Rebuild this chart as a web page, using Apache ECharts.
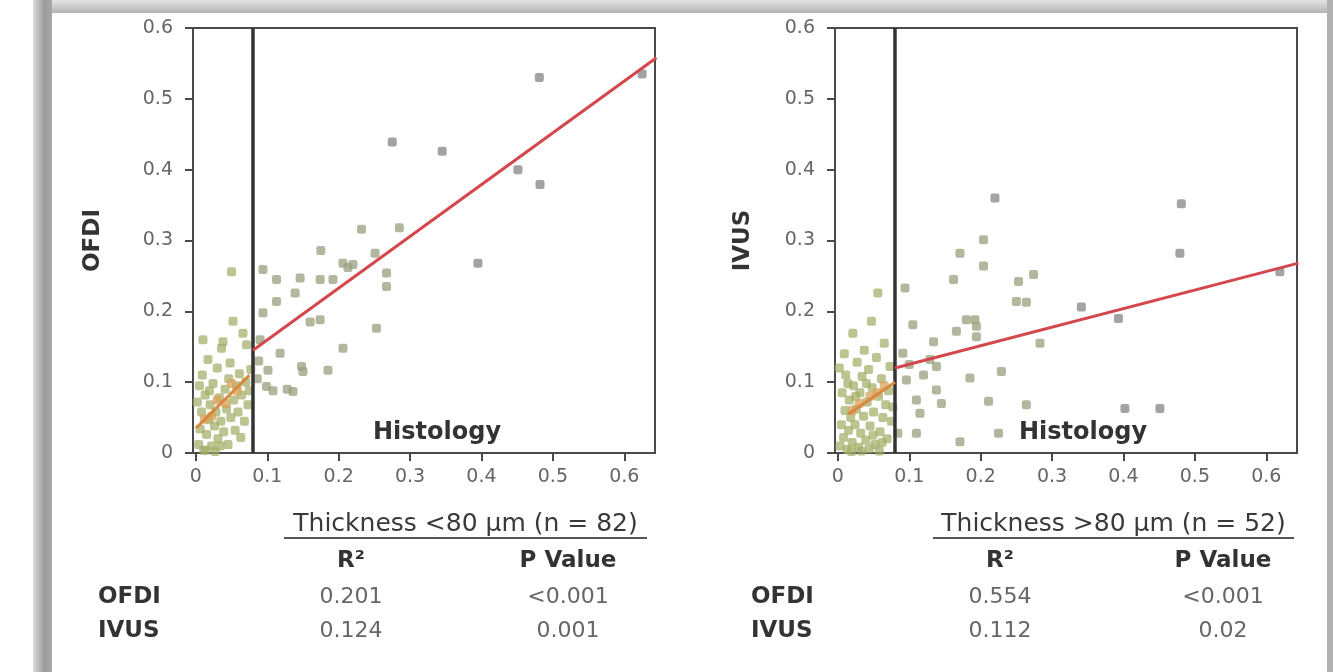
<!DOCTYPE html>
<html>
<head>
<meta charset="utf-8">
<title>Histology vs OFDI / IVUS</title>
<script src="https://cdn.jsdelivr.net/npm/echarts@6/dist/echarts.min.js"></script>
<style>
  html, body { margin: 0; padding: 0; background: #fff; }
  #chart { width: 1333px; height: 672px; }
</style>
</head>
<body>
<div id="chart"></div>
<script>
// tick labels
const xTicks = [0, 0.1, 0.2, 0.3, 0.4, 0.5, 0.6];
const cutoff = 0.08; // 80 um

// left panel (OFDI vs histology), [histology, OFDI]
const leftThin = [
  [0.004,0.012],[0.006,0.034],[0.008,0.058],[0.010,0.160],[0.011,0.004],[0.013,0.082],[0.015,0.026],
  [0.017,0.132],[0.018,0.047],[0.020,0.068],[0.022,0.010],[0.024,0.098],[0.026,0.038],[0.028,0.058],
  [0.030,0.120],[0.031,0.020],[0.033,0.078],[0.035,0.045],[0.036,0.148],[0.038,0.157],[0.039,0.030],
  [0.041,0.090],[0.043,0.062],[0.045,0.012],[0.046,0.105],[0.048,0.127],[0.049,0.050],[0.050,0.256],
  [0.052,0.186],[0.053,0.075],[0.055,0.032],[0.057,0.095],[0.059,0.058],[0.061,0.112],[0.063,0.022],
  [0.064,0.082],[0.066,0.169],[0.068,0.045],[0.070,0.100],[0.071,0.153],[0.073,0.068],[0.075,0.088],
  [0.077,0.118],[0.002,0.072],[0.005,0.095],[0.009,0.110],[0.014,0.004],[0.019,0.088],[0.027,0.002],
  [0.034,0.010]
];
const leftThinOrange = [[0.012,0.048],[0.022,0.052],[0.030,0.075],[0.042,0.070],[0.050,0.098],[0.058,0.088]];
const leftThick = [
  [0.094,0.259],[0.094,0.198],[0.099,0.094],[0.101,0.117],[0.113,0.245],[0.113,0.214],[0.118,0.141],
  [0.136,0.087],[0.128,0.090],[0.139,0.226],[0.146,0.247],[0.148,0.122],[0.150,0.115],[0.174,0.245],
  [0.174,0.188],[0.175,0.286],[0.185,0.117],[0.192,0.245],[0.206,0.148],[0.206,0.268],[0.220,0.266],
  [0.213,0.262],[0.232,0.316],[0.251,0.282],[0.253,0.176],[0.267,0.254],[0.267,0.235],[0.285,0.318],
  [0.090,0.160],[0.086,0.105],[0.088,0.130],[0.108,0.088],[0.160,0.185]
];
const leftOutliers = [[0.275,0.439],[0.345,0.426],[0.451,0.400],[0.482,0.379],[0.481,0.530],[0.395,0.268],[0.625,0.535]];
const leftFitThin = [[0, 0.035], [0.075, 0.11]];
const leftFitThick = [[0.08, 0.145], [0.645, 0.558]];

// right panel (IVUS vs histology)
const rightThin = [
  [0.003,0.010],[0.005,0.040],[0.006,0.085],[0.008,0.022],[0.010,0.060],[0.011,0.110],[0.013,0.005],
  [0.015,0.032],[0.016,0.075],[0.018,0.050],[0.020,0.015],[0.021,0.169],[0.022,0.095],[0.024,0.040],
  [0.026,0.062],[0.027,0.128],[0.029,0.008],[0.031,0.085],[0.032,0.028],[0.034,0.108],[0.036,0.052],
  [0.037,0.145],[0.039,0.018],[0.041,0.072],[0.043,0.118],[0.045,0.038],[0.047,0.186],[0.048,0.092],
  [0.050,0.058],[0.052,0.012],[0.054,0.135],[0.056,0.226],[0.057,0.080],[0.059,0.030],[0.061,0.105],
  [0.063,0.050],[0.065,0.155],[0.067,0.068],[0.069,0.020],[0.071,0.088],[0.073,0.122],[0.075,0.045],
  [0.077,0.065],[0.002,0.120],[0.009,0.140],[0.014,0.098],[0.019,0.002],[0.025,0.080],[0.033,0.003],
  [0.040,0.098],[0.044,0.006],[0.049,0.025],[0.058,0.003],[0.062,0.015]
];
const rightThinOrange = [[0.020,0.060],[0.030,0.070],[0.045,0.080],[0.055,0.085],[0.065,0.095]];
const rightThick = [
  [0.094,0.233],[0.105,0.181],[0.091,0.141],[0.096,0.103],[0.110,0.075],[0.115,0.056],[0.110,0.028],
  [0.129,0.132],[0.134,0.157],[0.138,0.122],[0.138,0.089],[0.145,0.070],[0.162,0.245],[0.171,0.282],
  [0.166,0.172],[0.180,0.188],[0.192,0.188],[0.194,0.179],[0.194,0.164],[0.204,0.301],[0.204,0.264],
  [0.185,0.106],[0.211,0.073],[0.229,0.115],[0.250,0.214],[0.264,0.213],[0.253,0.242],[0.274,0.252],
  [0.283,0.155],[0.171,0.016],[0.225,0.028],[0.264,0.068],[0.084,0.028],[0.100,0.125],[0.120,0.110]
];
const rightOutliers = [[0.220,0.360],[0.481,0.352],[0.479,0.282],[0.341,0.206],[0.393,0.190],[0.402,0.063],[0.451,0.063],[0.619,0.256]];
const rightFitThin = [[0.015, 0.055], [0.08, 0.100]];
const rightFitThick = [[0.08, 0.120], [0.645, 0.268]];

// table under the panels
const tableRows = ['OFDI', 'IVUS'];
const leftR2 = ['0.201', '0.124'];
const leftP = ['<0.001', '0.001'];
const rightR2 = ['0.554', '0.112'];
const rightP = ['<0.001', '0.02'];
const leftTitle = 'Thickness <80 µm (n = 82)';
const rightTitle = 'Thickness >80 µm (n = 52)';

const FONT = 'DejaVu Sans';
const axisColor = '#4a4a4a';

function xAxisCfg(gridIndex) {
  return {
    gridIndex: gridIndex, type: 'value', min: -0.004, max: 0.643,
    axisLine: { onZero: false, lineStyle: { color: axisColor, width: 2 } },
    axisTick: { length: 8, customValues: xTicks, lineStyle: { color: axisColor, width: 2 } },
    axisLabel: { customValues: xTicks, margin: 15, color: '#666', fontSize: 19, fontFamily: FONT },
    splitLine: { show: false }
  };
}
function yAxisCfg(gridIndex, name, gap) {
  return {
    gridIndex: gridIndex, type: 'value', min: 0, max: 0.6, interval: 0.1,
    name: name, nameLocation: 'middle', nameGap: gap,
    nameTextStyle: { color: '#333', fontSize: 23, fontWeight: 'bold', fontFamily: FONT, padding: [0, 0, 0, 0] },
    axisLine: { show: true, onZero: false, lineStyle: { color: axisColor, width: 2 } },
    axisTick: { length: 8, lineStyle: { color: axisColor, width: 2 } },
    axisLabel: { margin: 20, color: '#666', fontSize: 19, fontFamily: FONT },
    splitLine: { show: false }
  };
}
function dots(idx, data, color, opacity, size) {
  return {
    type: 'scatter', xAxisIndex: idx, yAxisIndex: idx, data: data,
    symbol: 'roundRect', symbolSize: size || 9,
    itemStyle: { color: color, opacity: opacity }, silent: true, z: 3
  };
}
function line(idx, data, color, width) {
  return {
    type: 'line', xAxisIndex: idx, yAxisIndex: idx, data: data,
    symbol: 'none', lineStyle: { color: color, width: width }, silent: true, z: 4, clip: true
  };
}

function txt(x, y, s, size, weight, color, align) {
  return {
    type: 'text', x: x, y: y, silent: true,
    style: { text: s, fontSize: size, fontWeight: weight || 'normal', fontFamily: FONT,
             fill: color || '#333', align: align || 'center', verticalAlign: 'middle' }
  };
}

// table texts
function table(titleX0, titleX1, title, rowX, r2X, pX, r2, p) {
  const els = [
    txt((titleX0 + titleX1) / 2, 524, title, 25, 'normal', '#3a3a3a'),
    { type: 'line', silent: true, shape: { x1: titleX0, y1: 538, x2: titleX1, y2: 538 },
      style: { stroke: '#555', lineWidth: 2 } },
    txt(r2X, 561, 'R²', 23, 'bold', '#333'),
    txt(pX, 561, 'P Value', 23, 'bold', '#333')
  ];
  tableRows.forEach(function (r, i) {
    const y = 597 + i * 34;
    els.push(txt(rowX, y, r, 23, 'bold', '#333', 'left'));
    els.push(txt(r2X, y, r2[i], 22, 'normal', '#666'));
    els.push(txt(pX, y, p[i], 22, 'normal', '#666'));
  });
  return els;
}

// picture frame
const frame = [
  { type: 'rect', silent: true, z: -10, shape: { x: 33, y: 0, width: 1300, height: 13 },
    style: { fill: new echarts.graphic.LinearGradient(0, 0, 0, 1, [
      { offset: 0, color: '#e4e4e4' }, { offset: 1, color: '#b4b4b4' }]) } },
  { type: 'rect', silent: true, z: -10, shape: { x: 33, y: 0, width: 19, height: 672 },
    style: { fill: new echarts.graphic.LinearGradient(0, 0, 1, 0, [
      { offset: 0, color: '#dadada' }, { offset: 0.6, color: '#9c9c9c' }, { offset: 1, color: '#a8a8a8' }]) } },
  { type: 'rect', silent: true, z: -10, shape: { x: 1327, y: 0, width: 6, height: 672 },
    style: { fill: '#b0b0b0' } }
];

const chart = echarts.init(document.getElementById('chart'));
chart.setOption({
  animation: false,
  backgroundColor: '#fff',
  grid: [
    { left: 193, top: 28, width: 462, height: 425, show: true, borderColor: axisColor, borderWidth: 2 },
    { left: 835, top: 28, width: 462, height: 425, show: true, borderColor: axisColor, borderWidth: 2 }
  ],
  xAxis: [xAxisCfg(0), xAxisCfg(1)],
  yAxis: [yAxisCfg(0, 'OFDI', 88), yAxisCfg(1, 'IVUS', 80)],
  series: [
    dots(0, leftThin, '#9fad62', 0.7),
    dots(0, leftThinOrange, '#d9a25a', 0.75),
    dots(0, leftThick, '#98a07e', 0.75),
    dots(0, leftOutliers, '#8c8c8c', 0.8),
    line(0, [[cutoff, 0], [cutoff, 0.6]], '#333', 3.5),
    line(0, leftFitThin, '#d9883f', 3),
    line(0, leftFitThick, '#d4474c', 3),

    dots(1, rightThin, '#9fad62', 0.7),
    dots(1, rightThinOrange, '#d9a25a', 0.75),
    dots(1, rightThick, '#98a07e', 0.75),
    dots(1, rightOutliers, '#8c8c8c', 0.8),
    line(1, [[cutoff, 0], [cutoff, 0.6]], '#333', 3.5),
    line(1, rightFitThin, '#d9883f', 3),
    line(1, rightFitThick, '#d4474c', 3)
  ],
  graphic: frame.concat(
    [txt(437, 433, 'Histology', 24, 'bold', '#333'), txt(1083, 433, 'Histology', 24, 'bold', '#333')],
    table(284, 647, leftTitle, 98, 351, 568, leftR2, leftP),
    table(933, 1294, rightTitle, 751, 1000, 1223, rightR2, rightP)
  )
});
</script>
</body>
</html>
